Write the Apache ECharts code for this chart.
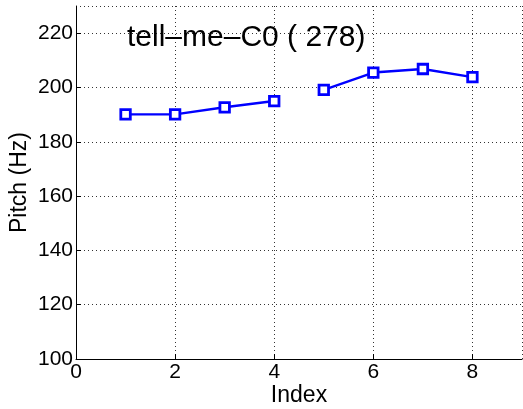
<!DOCTYPE html>
<html>
<head>
<meta charset="utf-8">
<script src="https://cdn.jsdelivr.net/npm/echarts@6/dist/echarts.min.js"></script>
<style>
  html, body { margin: 0; padding: 0; background: #fff; }
  #chart { width: 523px; height: 409px; }
</style>
</head>
<body>
<div id="chart"></div>
<script>
var titleText = 'tell–me–C0 ( 278)'
var xTicks = [0, 2, 4, 6, 8]
var yTicks = [100, 120, 140, 160, 180, 200, 220]

// two voiced segments, gap between index 4 and 5
var segIndex1 = [1, 2, 3, 4]
var segPitch1 = [190.1, 190.1, 192.7, 195.0]
var segIndex2 = [5, 6, 7, 8]
var segPitch2 = [199.1, 205.5, 206.8, 203.8]

function pairs(xs, ys) {
  var out = []
  for (let i = 0; i < xs.length; i++) {
    out.push([xs[i], ys[i]])
  }
  return out
}

var font = 'Liberation Sans, Arial, Helvetica, sans-serif'

function seg(data) {
  return {
    type: 'line',
    data: data,
    symbol: 'rect',
    symbolSize: 9.5,
    lineStyle: { color: '#0000ff', width: 2.4 },
    itemStyle: { color: '#ffffff', borderColor: '#0000ff', borderWidth: 2.8 },
    emphasis: { disabled: true },
    animation: false
  }
}

var myChart = echarts.init(document.getElementById('chart'))
myChart.setOption({
  backgroundColor: '#ffffff',
  title: {
    text: titleText,
    left: 122,
    top: 18,
    textStyle: { fontFamily: font, fontSize: 30, fontWeight: 'normal', color: '#000' }
  },
  grid: { left: 76, right: 1, top: 6, bottom: 50, containLabel: false, outerBoundsMode: 'none' },
  xAxis: {
    type: 'value',
    min: 0,
    max: 9,
    interval: 2,
    name: 'Index',
    nameLocation: 'middle',
    nameGap: 25,
    nameMoveOverlap: false,
    nameTextStyle: { fontFamily: font, fontSize: 23, color: '#000' },
    axisLine: { lineStyle: { color: '#000', width: 1 } },
    axisTick: { inside: true, length: 5, lineStyle: { color: '#000' } },
    axisLabel: {
      fontFamily: font, fontSize: 21, color: '#000', margin: 3,
      showMaxLabel: false,
      formatter: function (v) { return xTicks.indexOf(v) >= 0 ? String(v) : '' }
    },
    splitLine: { show: true, lineStyle: { color: '#333', type: [1, 3], width: 1 } }
  },
  yAxis: {
    type: 'value',
    min: 100,
    max: 230,
    interval: 20,
    name: 'Pitch (Hz)',
    nameLocation: 'middle',
    nameGap: 45,
    nameMoveOverlap: false,
    nameTextStyle: { fontFamily: font, fontSize: 23, color: '#000' },
    axisLine: { show: true, lineStyle: { color: '#000', width: 1 } },
    axisTick: { inside: true, length: 5, lineStyle: { color: '#000' } },
    axisLabel: {
      fontFamily: font, fontSize: 21, color: '#000', margin: 3,
      showMaxLabel: false,
      formatter: function (v) { return yTicks.indexOf(v) >= 0 ? String(v) : '' }
    },
    splitLine: { show: true, lineStyle: { color: '#333', type: [1, 3], width: 1 } }
  },
  series: [
    seg(pairs(segIndex1, segPitch1)),
    seg(pairs(segIndex2, segPitch2))
  ]
})
</script>
</body>
</html>
